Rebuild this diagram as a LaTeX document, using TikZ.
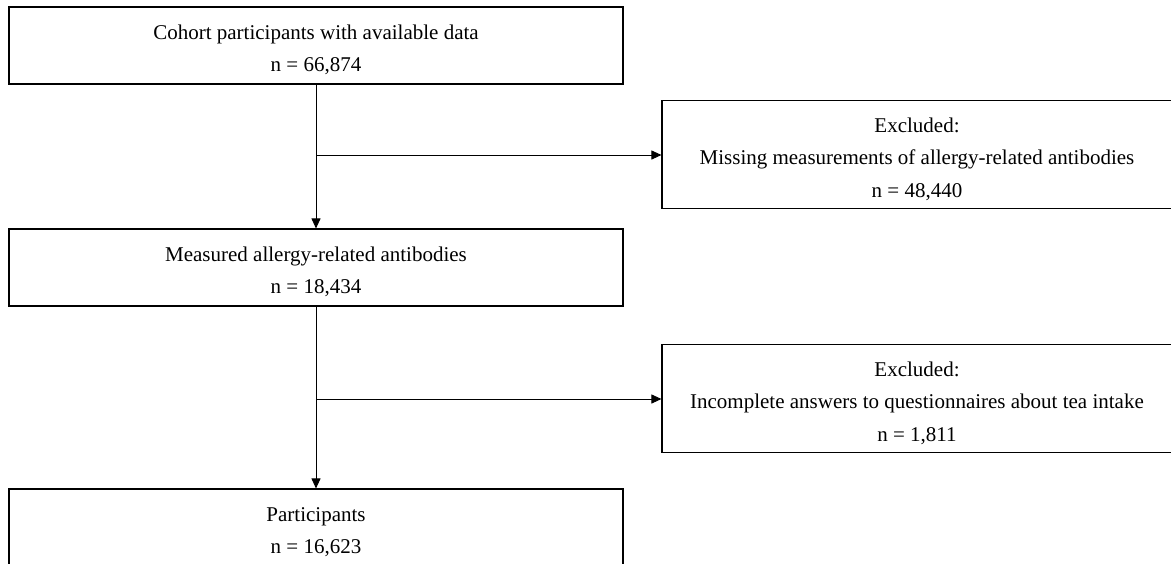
\documentclass[tikz,border=0pt]{standalone}
\usepackage{fontspec}
\setmainfont{Liberation Serif}
\usetikzlibrary{arrows.meta,calc}
\newcommand{\boxstrut}{\rule{0pt}{23.5pt}}
\begin{document}
\begin{tikzpicture}[x=1pt,y=-1pt,
  box/.style={draw=black,line width=1.1pt,rectangle,align=center,inner sep=0pt,
    font=\fontsize{21}{32.5}\selectfont},
  mainbox/.style={box,minimum width=614pt,minimum height=77pt},
  exbox/.style={box,minimum width=510pt,minimum height=108pt},
  conn/.style={draw=black,line width=0.9pt,-{Triangle[length=10pt,width=9pt]}}]
\useasboundingbox (0,0) rectangle (1171,563);
\node[mainbox] (A) at (316,45.5) {\boxstrut Cohort participants with available data\\n = 66,874};
\node[mainbox] (B) at (316,267.5) {\boxstrut Measured allergy-related antibodies\\n = 18,434};
\node[mainbox] (C) at (316,527.5) {\boxstrut Participants\\n = 16,623};
\node[exbox] (E1) at (917,154.5) {\boxstrut Excluded:\\Missing measurements of allergy-related antibodies\\n = 48,440};
\node[exbox] (E2) at (917,398.5) {\boxstrut Excluded:\\Incomplete answers to questionnaires about tea intake\\n = 1,811};
\coordinate (j1) at (316,155);
\coordinate (j2) at (316,399);
\draw[conn] (A.south) -- (B.north);
\draw[conn] (B.south) -- (C.north);
\draw[conn] (j1) -- (j1 -| E1.west);
\draw[conn] (j2) -- (j2 -| E2.west);
\end{tikzpicture}
\end{document}
